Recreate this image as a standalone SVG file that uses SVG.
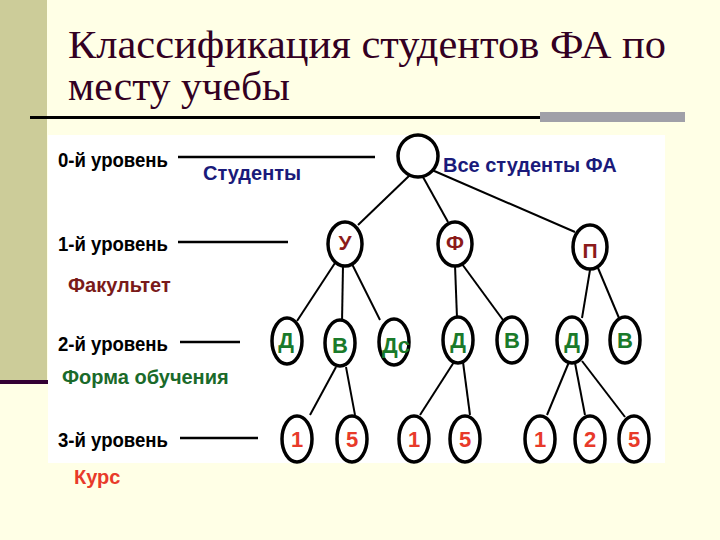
<svg xmlns="http://www.w3.org/2000/svg" width="720" height="540" viewBox="0 0 720 540">
<style>
.n{fill:#fff;stroke:#000;stroke-width:3.5}
.e line{stroke:#000;stroke-width:2}
.lv{font-family:"Liberation Sans",sans-serif;font-weight:bold;font-size:21px;fill:#000}
.t{font-family:"Liberation Sans",sans-serif;font-weight:bold;text-anchor:middle}
.l1{fill:#8b1a1a;font-size:21px}.l2{fill:#1a7a2a;font-size:22px}.l3{fill:#e83a2a;font-size:22px}
.hd{font-family:"Liberation Sans",sans-serif;font-weight:bold;font-size:20px}
.ti{font-family:"Liberation Serif","DejaVu Serif",serif;font-size:39px;fill:#330022}
</style>
<rect width="720" height="540" fill="#ffffe6"/>
<rect x="0" y="0" width="47" height="384" fill="#cccc99"/>
<rect x="0" y="380" width="48" height="4" fill="#330033"/>
<text class="ti" x="68" y="58" textLength="598" lengthAdjust="spacingAndGlyphs">Классификация студентов ФА по</text>
<text class="ti" x="68" y="100" textLength="222" lengthAdjust="spacingAndGlyphs">месту учебы</text>
<rect x="30" y="116" width="515" height="3" fill="#000"/>
<rect x="540" y="112" width="145" height="10" fill="#a0a0a8"/>
<rect x="48" y="135" width="617" height="328" fill="#fff"/>
<g id="levels">
<text class="lv" x="58" y="167" textLength="110" lengthAdjust="spacingAndGlyphs">0-й уровень</text>
<text class="lv" x="58" y="251" textLength="110" lengthAdjust="spacingAndGlyphs">1-й уровень</text>
<text class="lv" x="58" y="351" textLength="110" lengthAdjust="spacingAndGlyphs">2-й уровень</text>
<text class="lv" x="58" y="447" textLength="110" lengthAdjust="spacingAndGlyphs">3-й уровень</text>
<g stroke="#000" stroke-width="2.5"><line x1="178" y1="157" x2="375" y2="157"/><line x1="178" y1="242" x2="288" y2="242"/><line x1="180" y1="342" x2="240" y2="342"/><line x1="180" y1="438" x2="258" y2="438"/></g>
<text class="hd" x="203" y="180" fill="#1a1a7a">Студенты</text>
<text class="hd" x="443" y="172" fill="#1a1a7a">Все студенты ФА</text>
<text class="hd" x="68" y="292" fill="#7a1a1a">Факультет</text>
<text class="hd" x="62" y="384" fill="#1a6a2a">Форма обучения</text>
<text class="hd" x="74" y="484" fill="#e83a2a">Курс</text>
</g>
<g id="edges" class="e">
<line x1="410" y1="175" x2="358" y2="225"/><line x1="423" y1="177" x2="448" y2="222"/><line x1="432" y1="170" x2="575" y2="232"/>
<line x1="335" y1="263" x2="297" y2="321"/><line x1="343" y1="265" x2="342" y2="323"/><line x1="352" y1="264" x2="380" y2="320"/>
<line x1="455" y1="265" x2="457" y2="318"/><line x1="462" y1="264" x2="503" y2="320"/>
<line x1="590" y1="270" x2="582" y2="318"/><line x1="598" y1="268" x2="619" y2="318"/>
<line x1="336" y1="367" x2="310" y2="415"/><line x1="346" y1="367" x2="355" y2="415"/>
<line x1="454" y1="362" x2="420" y2="415"/><line x1="463" y1="362" x2="470" y2="415"/>
<line x1="569" y1="362" x2="547" y2="415"/><line x1="575" y1="363" x2="585" y2="415"/><line x1="582" y1="361" x2="625" y2="417"/>
</g>
<g id="root"><ellipse class="n" cx="418" cy="156" rx="20" ry="21"/></g>
<g id="u"><ellipse class="n" cx="345" cy="244" rx="17" ry="22"/><text class="t l1" x="345" y="250">У</text></g>
<g id="f"><ellipse class="n" cx="455" cy="244" rx="17" ry="22"/><text class="t l1" x="455" y="250">Ф</text></g>
<g id="p"><ellipse class="n" cx="590" cy="247" rx="17" ry="22"/><text class="t l1" x="590" y="258">П</text></g>
<g id="d1"><ellipse class="n" cx="287" cy="341" rx="15" ry="23"/><text class="t l2" x="286" y="348">Д</text></g>
<g id="v1"><ellipse class="n" cx="340" cy="343" rx="15" ry="23"/><text class="t l2" x="340" y="353">В</text></g>
<g id="ds"><ellipse class="n" cx="394" cy="342" rx="15" ry="23"/><text class="t l2" x="396" y="353" font-size="20">Дс</text></g>
<g id="d2"><ellipse class="n" cx="458" cy="340" rx="15" ry="23"/><text class="t l2" x="458" y="348">Д</text></g>
<g id="v2"><ellipse class="n" cx="512" cy="340" rx="15" ry="23"/><text class="t l2" x="512" y="348">В</text></g>
<g id="d3"><ellipse class="n" cx="572" cy="340" rx="15" ry="23"/><text class="t l2" x="572" y="348">Д</text></g>
<g id="v3"><ellipse class="n" cx="625" cy="340" rx="15" ry="23"/><text class="t l2" x="625" y="348">В</text></g>
<g id="c1"><ellipse class="n" cx="297" cy="439" rx="15" ry="23"/><text class="t l3" x="297" y="447">1</text></g>
<g id="c2"><ellipse class="n" cx="352" cy="439" rx="15" ry="23"/><text class="t l3" x="352" y="447">5</text></g>
<g id="c3"><ellipse class="n" cx="414" cy="439" rx="15" ry="23"/><text class="t l3" x="414" y="447">1</text></g>
<g id="c4"><ellipse class="n" cx="465" cy="439" rx="15" ry="23"/><text class="t l3" x="465" y="447">5</text></g>
<g id="c5"><ellipse class="n" cx="540" cy="439" rx="15" ry="23"/><text class="t l3" x="540" y="447">1</text></g>
<g id="c6"><ellipse class="n" cx="590" cy="439" rx="15" ry="23"/><text class="t l3" x="590" y="447">2</text></g>
<g id="c7"><ellipse class="n" cx="634" cy="439" rx="15" ry="23"/><text class="t l3" x="634" y="447">5</text></g>
</svg>
